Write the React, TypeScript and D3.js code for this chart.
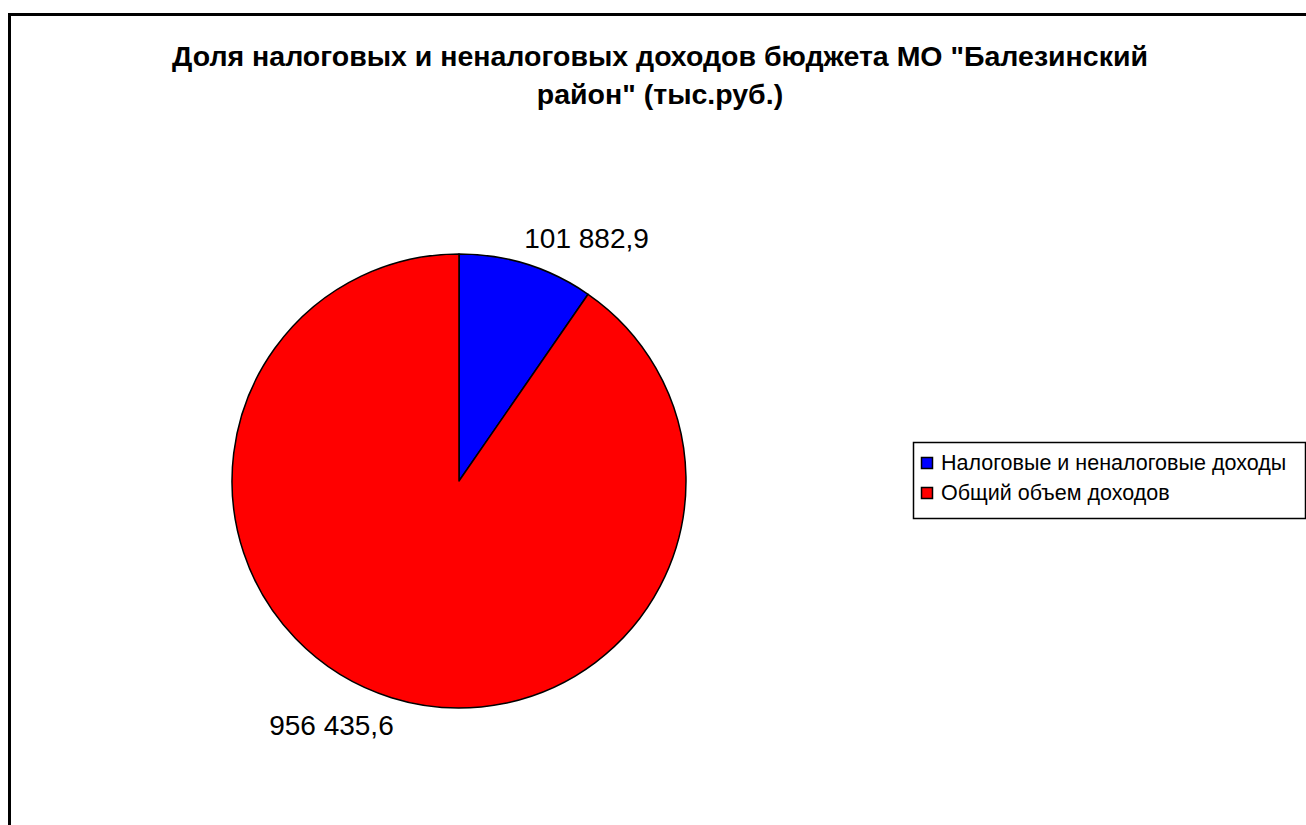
import React, { useEffect, useRef } from "react";
import * as d3 from "d3";

const categories = ["Налоговые и неналоговые доходы", "Общий объем доходов"];
const values = [101882.9, 956435.6];
const valueLabels = ["101 882,9", "956 435,6"];
const colors = ["#0000ff", "#ff0000"];
const titleLines = [
  "Доля налоговых и неналоговых доходов бюджета МО \"Балезинский",
  "район\" (тыс.руб.)",
];

const W = 1306;
const H = 825;

function App() {
  const ref = useRef<SVGSVGElement | null>(null);

  useEffect(() => {
    const svg = d3.select(ref.current);
    svg.selectAll("*").remove();

    // chart area frame (runs past the right and bottom edges)
    svg
      .append("rect")
      .attr("x", 9.5)
      .attr("y", 14.5)
      .attr("width", W + 20)
      .attr("height", H + 20)
      .attr("fill", "white")
      .attr("stroke", "black")
      .attr("stroke-width", 3);

    // title
    const title = svg
      .append("text")
      .attr("text-anchor", "middle")
      .attr("font-family", "Liberation Sans, Arial, sans-serif")
      .attr("font-weight", "bold")
      .attr("font-size", 28.5)
      .attr("fill", "black");
    titleLines.forEach((t, i) =>
      title
        .append("tspan")
        .attr("x", 660)
        .attr("y", 66 + i * 38)
        .text(t)
    );

    const cx = 459;
    const cy = 481;
    const r = 227;

    const pie = d3
      .pie<number>()
      .sort(null)
      .value((d) => d)
      .startAngle(0)
      .endAngle(2 * Math.PI);
    const arcs = pie(values);
    const arc = d3.arc<d3.PieArcDatum<number>>().innerRadius(0).outerRadius(r);

    const g = svg.append("g").attr("transform", `translate(${cx},${cy})`);
    g.selectAll("path")
      .data(arcs)
      .join("path")
      .attr("d", arc)
      .attr("fill", (_, i) => colors[i])
      .attr("stroke", "black")
      .attr("stroke-width", 1.5)
      .attr("stroke-linejoin", "round");

    // value labels outside the slices
    const labelR = 275;
    g.selectAll("text.val")
      .data(arcs)
      .join("text")
      .attr("class", "val")
      .attr("text-anchor", "middle")
      .attr("dominant-baseline", "central")
      .attr("font-family", "Liberation Sans, Arial, sans-serif")
      .attr("font-size", 28)
      .attr("fill", "black")
      .attr("x", (d) => {
        const a = (d.startAngle + d.endAngle) / 2 + 0.18;
        return Math.sin(a) * labelR;
      })
      .attr("y", (d) => {
        const a = (d.startAngle + d.endAngle) / 2 + 0.18;
        return -Math.cos(a) * labelR + 1;
      })
      .text((_, i) => valueLabels[i]);

    // legend
    const lx = 913;
    const ly = 442;
    const lg = svg.append("g");
    lg.append("rect")
      .attr("x", lx + 0.5)
      .attr("y", ly + 0.5)
      .attr("width", 392)
      .attr("height", 76)
      .attr("fill", "white")
      .attr("stroke", "black")
      .attr("stroke-width", 1.5);
    categories.forEach((c, i) => {
      const y = ly + 21 + i * 30;
      lg.append("rect")
        .attr("x", lx + 8.5)
        .attr("y", y - 5.5)
        .attr("width", 11)
        .attr("height", 11)
        .attr("fill", colors[i])
        .attr("stroke", "black")
        .attr("stroke-width", 1.5);
      lg.append("text")
        .attr("x", lx + 28)
        .attr("y", y)
        .attr("dominant-baseline", "central")
        .attr("font-family", "Liberation Sans, Arial, sans-serif")
        .attr("font-size", 21.5)
        .attr("fill", "black")
        .text(c);
    });
  }, []);

  return (
    <svg
      ref={ref}
      width={W}
      height={H}
      style={{ position: "absolute", left: 0, top: 0, background: "white" }}
    />
  );
}

export default App;
